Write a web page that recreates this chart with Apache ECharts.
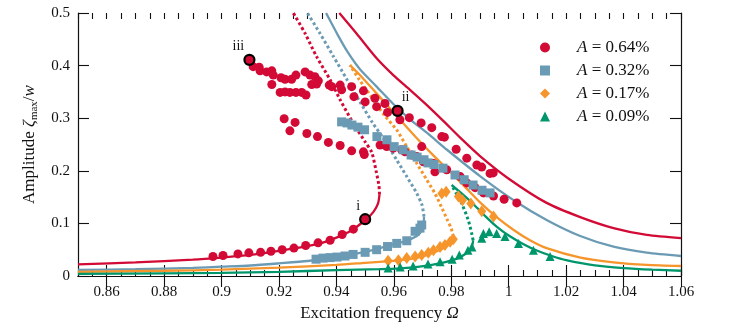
<!DOCTYPE html>
<html>
<head>
<meta charset="utf-8">
<script src="https://cdn.jsdelivr.net/npm/echarts@6/dist/echarts.min.js"></script>
<style>
  html, body { margin: 0; padding: 0; background: #fff; }
  #box { width: 736px; height: 327px; }
</style>
</head>
<body>
<div id="box"></div>
<script>
  // axis ticks
  const xMajor = [0.86, 0.88, 0.9, 0.92, 0.94, 0.96, 0.98, 1, 1.02, 1.04, 1.06];
  const xMinor = [];
  for (let i = 0; i <= 42; i++) xMinor.push(Math.round((0.85 + i * 0.005) * 1000) / 1000);

  // measured points [Ω, ζmax/w]
  const pts064 = [
    [0.897, 0.037], [0.9005, 0.039], [0.9057, 0.042], [0.9095, 0.044], [0.9136, 0.045],
    [0.9172, 0.047], [0.9211, 0.05], [0.9252, 0.053], [0.9293, 0.058], [0.9336, 0.063],
    [0.9378, 0.068], [0.942, 0.079], [0.9459, 0.089],
    [0.911, 0.398], [0.9131, 0.397], [0.9134, 0.39], [0.9157, 0.388], [0.9175, 0.39],
    [0.918, 0.382], [0.9207, 0.377], [0.9221, 0.374], [0.9244, 0.374], [0.9259, 0.382],
    [0.9291, 0.388], [0.9308, 0.382], [0.9325, 0.379], [0.9337, 0.371], [0.9314, 0.364],
    [0.9331, 0.365], [0.9375, 0.363], [0.9384, 0.36], [0.9413, 0.363], [0.9418, 0.354],
    [0.9453, 0.36], [0.9461, 0.341], [0.9494, 0.352], [0.95, 0.331], [0.9534, 0.338],
    [0.954, 0.322], [0.9569, 0.328], [0.9578, 0.311],
    [0.9175, 0.364], [0.9204, 0.349], [0.9221, 0.35], [0.9238, 0.349], [0.9259, 0.349],
    [0.9279, 0.349], [0.9294, 0.344],
    [0.9621, 0.297], [0.9654, 0.301], [0.9695, 0.291], [0.9732, 0.282], [0.9776, 0.264],
    [0.9817, 0.241], [0.9854, 0.224], [0.9889, 0.211], [0.9906, 0.207], [0.9935, 0.195],
    [0.9946, 0.196],
    [0.9218, 0.299], [0.9256, 0.292], [0.9238, 0.276], [0.9297, 0.271], [0.9334, 0.265],
    [0.9372, 0.254], [0.9413, 0.248], [0.9453, 0.238], [0.9494, 0.236], [0.9497, 0.231],
    [0.9552, 0.249], [0.9575, 0.246], [0.9598, 0.243], [0.9627, 0.24], [0.9639, 0.236],
    [0.9662, 0.23], [0.968, 0.227], [0.9697, 0.246], [0.9703, 0.217], [0.9738, 0.214],
    [0.9743, 0.198], [0.9767, 0.265], [0.9784, 0.202], [0.9831, 0.189], [0.9854, 0.177],
    [0.9883, 0.168], [0.9912, 0.158], [0.9947, 0.152], [0.9984, 0.146], [1.0028, 0.139]
  ];
  const pts032 = [
    [0.9329, 0.032], [0.9353, 0.034], [0.9378, 0.035], [0.9402, 0.036], [0.943, 0.038],
    [0.9458, 0.041], [0.95, 0.045], [0.954, 0.05], [0.9578, 0.056], [0.961, 0.062],
    [0.9645, 0.067], [0.9674, 0.085], [0.9691, 0.091], [0.9697, 0.097],
    [0.9418, 0.293], [0.9437, 0.291], [0.9454, 0.287], [0.9475, 0.283], [0.9498, 0.278],
    [0.9541, 0.265], [0.9576, 0.259], [0.9601, 0.246], [0.9632, 0.24], [0.966, 0.23],
    [0.9681, 0.226], [0.9705, 0.221], [0.9719, 0.215], [0.974, 0.212], [0.9771, 0.205],
    [0.9813, 0.192], [0.9845, 0.183], [0.9876, 0.173], [0.9907, 0.163], [0.9935, 0.158]
  ];
  const pts017 = [
    [0.958, 0.029], [0.9616, 0.03], [0.9645, 0.034], [0.9674, 0.037], [0.9697, 0.04],
    [0.972, 0.044], [0.9738, 0.049], [0.9761, 0.055], [0.9778, 0.059], [0.9796, 0.065],
    [0.9807, 0.07],
    [0.9767, 0.157], [0.9782, 0.16], [0.9825, 0.151], [0.9839, 0.144], [0.9868, 0.138],
    [0.9906, 0.123], [0.9947, 0.113]
  ];
  const pts009 = [
    [0.958, 0.015], [0.9622, 0.017], [0.9667, 0.019], [0.9719, 0.023], [0.9761, 0.027],
    [0.9803, 0.032], [0.9828, 0.04], [0.9858, 0.049], [0.9872, 0.055],
    [0.9906, 0.072], [0.9912, 0.081], [0.9932, 0.084], [0.9958, 0.081], [0.9987, 0.075],
    [1.0034, 0.062], [1.0086, 0.049], [1.0144, 0.037]
  ];

  // marked states i, ii, iii
  const markNames = ['i', 'ii', 'iii'];
  const markPts = [[0.95, 0.108], [0.9613, 0.314], [0.9097, 0.411]];
  const markOffsets = [[-7, 5], [8, 5], [-11, 5]];

  // model curves: lower stable, unstable (dotted), upper stable
  const red_lo = [
    [0.85, 0.022], [0.87, 0.026], [0.89, 0.031], [0.9, 0.035], [0.91, 0.04], [0.92, 0.048],
    [0.93, 0.057], [0.935, 0.063], [0.94, 0.073], [0.945, 0.086], [0.95, 0.106],
    [0.9529, 0.122], [0.9545, 0.138], [0.955, 0.155]
  ];
  const red_mid = [
    [0.955, 0.155], [0.9548, 0.172], [0.9538, 0.2], [0.9523, 0.235], [0.95, 0.255],
    [0.9459, 0.29], [0.9413, 0.335], [0.9378, 0.373], [0.9331, 0.417], [0.9291, 0.461], [0.925, 0.5]
  ];
  const red_up = [
    [0.941, 0.5], [0.947, 0.461], [0.954, 0.414], [0.9598, 0.382], [0.9656, 0.354],
    [0.9715, 0.325], [0.9772, 0.295], [0.9831, 0.263], [0.99, 0.228], [1.0, 0.185],
    [1.0132, 0.139], [1.0249, 0.112], [1.0365, 0.091], [1.0481, 0.078], [1.06, 0.072]
  ];
  const blue_lo = [
    [0.85, 0.0115], [0.87, 0.013], [0.89, 0.0155], [0.9, 0.0177], [0.91, 0.02], [0.92, 0.024],
    [0.93, 0.0285], [0.94, 0.036], [0.95, 0.046], [0.955, 0.0526], [0.96, 0.0605],
    [0.9645, 0.067], [0.9685, 0.078], [0.9702, 0.094], [0.9705, 0.113]
  ];
  const blue_mid = [
    [0.9705, 0.113], [0.9698, 0.135], [0.968, 0.157], [0.9645, 0.189], [0.961, 0.2205],
    [0.9563, 0.262], [0.9525, 0.292], [0.9482, 0.331], [0.9436, 0.374], [0.9389, 0.418],
    [0.9343, 0.461], [0.9299, 0.5]
  ];
  const blue_up = [
    [0.9364, 0.5], [0.9405, 0.458], [0.944, 0.425], [0.9482, 0.393], [0.954, 0.36],
    [0.9598, 0.327], [0.9656, 0.298], [0.972, 0.27], [0.9785, 0.24], [0.99, 0.19],
    [1.0016, 0.1445], [1.0132, 0.1065], [1.0249, 0.076], [1.0365, 0.0557], [1.0481, 0.0443], [1.06, 0.038]
  ];
  const orange_lo = [
    [0.85, 0.008], [0.88, 0.01], [0.9, 0.012], [0.92, 0.016], [0.94, 0.021], [0.95, 0.025],
    [0.96, 0.029], [0.965, 0.032], [0.97, 0.037], [0.975, 0.047], [0.978, 0.055],
    [0.98, 0.064], [0.9807, 0.075]
  ];
  const orange_mid = [
    [0.9807, 0.075], [0.98, 0.09], [0.9785, 0.108], [0.9765, 0.132], [0.9743, 0.157],
    [0.9715, 0.1825], [0.968, 0.214], [0.9645, 0.2458], [0.961, 0.2776], [0.9565, 0.307],
    [0.952, 0.342], [0.948, 0.373], [0.9447, 0.401]
  ];
  const orange_up = [
    [0.9447, 0.401], [0.948, 0.383], [0.955, 0.341], [0.962, 0.298], [0.968, 0.262],
    [0.974, 0.228], [0.98, 0.196], [0.985, 0.168], [0.99, 0.14], [0.9958, 0.112],
    [1.0016, 0.088], [1.0074, 0.068], [1.0132, 0.053], [1.025, 0.035], [1.0365, 0.026],
    [1.048, 0.021], [1.06, 0.019]
  ];
  const green_lo = [
    [0.85, 0.004], [0.88, 0.005], [0.9, 0.006], [0.92, 0.008], [0.94, 0.011], [0.955, 0.013],
    [0.962, 0.0145], [0.969, 0.018], [0.976, 0.024], [0.981, 0.031], [0.9835, 0.037],
    [0.9865, 0.049], [0.9874, 0.06], [0.9876, 0.068]
  ];
  const green_mid = [
    [0.9876, 0.068], [0.9871, 0.081], [0.9859, 0.1065], [0.9836, 0.138], [0.9801, 0.173]
  ];
  const green_up = [
    [0.9801, 0.173], [0.984, 0.155], [0.988, 0.135], [0.992, 0.113], [0.996, 0.093],
    [1.0, 0.077], [1.005, 0.061], [1.01, 0.048], [1.015, 0.038], [1.02, 0.03], [1.03, 0.02],
    [1.04, 0.015], [1.05, 0.012], [1.06, 0.01]
  ];

  const RED = '#d20a35', BLUE = '#6b9bb4', ORANGE = '#f6952b', GREEN = '#00966b';
  const serif = 'Liberation Serif';

  const solid = (data, color) => ({
    type: 'line', data, smooth: 0.25, symbol: 'none', z: 2, silent: true,
    lineStyle: { color, width: 2.3 },
  });
  const dotted = (data, color) => ({
    type: 'line', data, smooth: 0.25, symbol: 'none', z: 2, silent: true,
    lineStyle: { color, width: 3, type: [2.8, 2.6], cap: 'butt' },
  });
  const pts = (name, data, color, symbol, size) => ({
    name, type: 'scatter', data, symbol, symbolSize: size, z: 3,
    itemStyle: { color, opacity: 1 },
  });

  const tickAxis = (pos, values, len, labels) => ({
    type: 'value', position: pos, min: 0.85, max: 1.06,
    axisLine: { show: !!labels, lineStyle: { color: '#111', width: 1.2 } },
    axisTick: { show: true, inside: true, length: len, customValues: values,
      lineStyle: { color: '#111', width: 1.1 } },
    axisLabel: labels ? { customValues: values, color: '#111', fontFamily: serif, fontSize: 15, margin: 9 } : { show: false },
    splitLine: { show: false },
  });

  const xAxes = [tickAxis('bottom', xMajor, 11, true), tickAxis('top', xMajor, 11, true),
    tickAxis('bottom', xMinor, 6, false), tickAxis('top', xMinor, 6, false)];
  xAxes[0].name = '{n|Excitation frequency }{g|Ω}';
  xAxes[0].nameLocation = 'middle';
  xAxes[0].nameGap = 29;
  xAxes[0].nameTextStyle = {
    rich: {
      n: { fontFamily: serif, fontSize: 17, color: '#111' },
      g: { fontFamily: serif, fontSize: 17, color: '#111', fontStyle: 'italic' },
    },
  };
  xAxes[1].axisLabel = { show: false };

  const chart = echarts.init(document.getElementById('box'));
  chart.setOption({
    animation: false,
    grid: { left: 78, right: 55, top: 13, bottom: 51 },
    xAxis: xAxes,
    yAxis: [
      {
        type: 'value', position: 'left', min: 0, max: 0.5, interval: 0.1,
        axisLine: { show: true, lineStyle: { color: '#111', width: 1.2 } },
        axisTick: { inside: true, length: 11, lineStyle: { color: '#111', width: 1.1 } },
        axisLabel: { color: '#111', fontFamily: serif, fontSize: 15, margin: 8 },
        splitLine: { show: false },
        name: '{n|Amplitude }{g|ζ}{s|max}{n|/}{g|w}',
        nameLocation: 'middle', nameGap: 38, nameRotate: 90,
        nameTextStyle: {
          rich: {
            n: { fontFamily: serif, fontSize: 17, color: '#111', lineHeight: 20 },
            g: { fontFamily: serif, fontSize: 17, color: '#111', fontStyle: 'italic', lineHeight: 20 },
            s: { fontFamily: serif, fontSize: 11, color: '#111', lineHeight: 20, padding: [9, 0, 0, 0] },
          },
        },
      },
      {
        type: 'value', position: 'right', min: 0, max: 0.5, interval: 0.1,
        axisLine: { show: true, lineStyle: { color: '#111', width: 1.2 } },
        axisTick: { inside: true, length: 11, lineStyle: { color: '#111', width: 1.1 } },
        axisLabel: { show: false },
        splitLine: { show: false },
      },
    ],
    legend: {
      data: ['A = 0.64%', 'A = 0.32%', 'A = 0.17%', 'A = 0.09%'],
      orient: 'vertical', left: 535, top: 34, itemWidth: 10, itemHeight: 10, itemGap: 6,
      formatter: (n) => '{sp|}{i|A}{t|' + n.slice(1) + '}',
      textStyle: {
        rich: {
          sp: { width: 22 },
          i: { fontFamily: serif, fontSize: 17, fontStyle: 'italic', color: '#111', lineHeight: 17 },
          t: { fontFamily: serif, fontSize: 17, color: '#111', lineHeight: 17 },
        },
      },
    },
    series: [
      solid(red_lo, RED), dotted(red_mid, RED), solid(red_up, RED),
      solid(blue_lo, BLUE), dotted(blue_mid, BLUE), solid(blue_up, BLUE),
      solid(orange_lo, ORANGE), dotted(orange_mid, ORANGE), solid(orange_up, ORANGE),
      solid(green_lo, GREEN), dotted(green_mid, GREEN), solid(green_up, GREEN),
      pts('A = 0.64%', pts064, RED, 'circle', 9),
      pts('A = 0.32%', pts032, BLUE, 'rect', 9),
      pts('A = 0.17%', pts017, ORANGE, 'diamond', [9, 12]),
      pts('A = 0.09%', pts009, GREEN, 'triangle', 9),
      {
        type: 'scatter', z: 4, symbol: 'circle', symbolSize: 10,
        data: markPts.map((p, i) => ({ value: p, label: { offset: markOffsets[i] } })),
        itemStyle: { color: RED, borderColor: '#000', borderWidth: 2.2, opacity: 1 },
        label: {
          show: true, position: 'top', distance: 5,
          formatter: (p) => markNames[p.dataIndex],
          fontFamily: serif, fontSize: 14, color: '#111',
        },
      },
    ],
  });
</script>
</body>
</html>
